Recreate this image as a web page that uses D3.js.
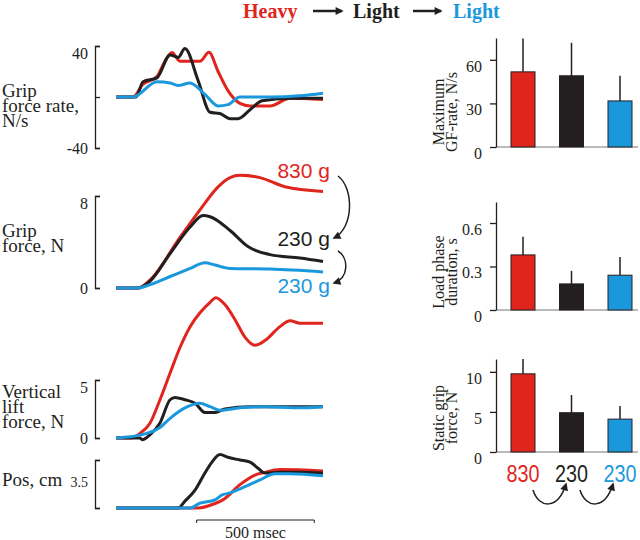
<!DOCTYPE html>
<html>
<head>
<meta charset="utf-8">
<script src="https://cdn.jsdelivr.net/npm/d3@7"></script>
<style>
body { margin: 0; background: #fff; }
.serif { font-family: "Liberation Serif", "Times New Roman", serif; }
.sans { font-family: "Liberation Sans", Arial, sans-serif; }
</style>
</head>
<body>
<div id="chart"></div>
<script>
// Traces: [time ms, value]
var rateHeavy = [[0,0],[72,0],[115,10],[174,16],[208,28],[238,35],[272,28],[357,28],[395,35],[434,20],[476,5],[527,-5],[570,-7],[655,-7],[740,-1],[880,-2]];
var rateLight1 = [[0,0],[85,0],[115,12],[174,15],[230,33],[264,31],[293,38],[349,13],[400,-12],[442,-13],[485,-17],[519,-17],[570,-10],[621,-3],[740,-1],[880,-1]];
var rateLight2 = [[0,0],[72,0],[174,12],[230,11],[264,9],[315,11],[378,2],[434,-7],[476,-6],[527,0],[655,0],[782,1],[880,3]];

var gripHeavy = [[0,0],[94,0],[145,0.7],[272,4.4],[357,6.8],[434,8.8],[485,9.6],[527,9.8],[612,9.6],[718,8.8],[880,8.4]];
var gripLight1 = [[0,0],[94,0],[145,0.6],[230,3.0],[315,5.3],[370,6.3],[400,6.2],[485,5.0],[561,3.6],[655,2.9],[782,2.6],[880,2.3]];
var gripLight2 = [[0,0],[94,0],[145,0.3],[230,1.0],[315,1.7],[378,2.2],[421,2.0],[485,1.7],[655,1.65],[880,1.4]];

var liftHeavy = [[0,0],[60,0],[102,0.4],[145,1.3],[187,3.3],[230,5.6],[272,7.8],[315,9.6],[357,10.8],[400,11.7],[425,12.1],[463,11.5],[506,10.2],[548,8.7],[591,8.0],[633,8.4],[697,9.6],[740,10.1],[782,9.9],[880,9.9]];
var liftLight1 = [[0,0],[102,0],[111,-0.15],[145,0.3],[187,1.3],[230,3.3],[251,3.5],[293,3.3],[336,3.0],[378,2.2],[421,2.2],[463,2.5],[570,2.7],[880,2.7]];
var liftLight2 = [[0,0],[60,0.1],[123,0.35],[187,0.9],[230,1.7],[293,2.6],[357,3.0],[400,2.7],[442,2.4],[527,2.6],[633,2.7],[782,2.6],[880,2.7]];

var posHeavy = [[0,0],[349,0],[400,0.2],[463,0.7],[527,1.7],[591,2.4],[633,2.6],[697,2.8],[880,2.7]];
var posLight1 = [[0,0],[264,0],[293,0.5],[336,1.3],[378,2.55],[408,3.35],[442,3.9],[476,3.7],[527,3.5],[570,3.35],[604,2.9],[633,2.55],[697,2.6],[782,2.6],[880,2.55]];
var posLight2 = [[0,0],[315,0],[357,0.35],[421,0.6],[451,0.95],[485,1.1],[548,1.55],[612,2.05],[676,2.5],[740,2.5],[880,2.35]];

// Bar charts
var categories = ["830", "230", "230"];
var colors = ["#e0251e", "#231f20", "#1b98dc"];
var gfRateMean = [51.7, 49, 31.7];
var gfRateSD = [23, 22.7, 17.3];
var loadMean = [0.38, 0.18, 0.24];
var loadSD = [0.125, 0.09, 0.125];
var staticMean = [9.75, 4.9, 4.1];
var staticSD = [1.85, 2.2, 1.65];

var svg = d3.select("#chart").append("svg")
    .attr("width", 640)
    .attr("height", 540);

// arrowhead
svg.append("defs").append("marker")
    .attr("id", "head")
    .attr("viewBox", "0 0 10 10")
    .attr("refX", 8).attr("refY", 5)
    .attr("markerWidth", 9).attr("markerHeight", 8)
    .attr("markerUnits", "userSpaceOnUse")
    .attr("orient", "auto")
    .append("path")
    .attr("d", "M0,0L10,5L0,10z")
    .attr("fill", "#231f20");

// Title
var title = [["Heavy", 243, colors[0]], ["Light", 353, colors[1]], ["Light", 453, colors[2]]];
title.forEach(function (d) {
    svg.append("text").attr("class", "serif")
        .attr("x", d[1]).attr("y", 18)
        .attr("font-size", 20).attr("font-weight", "bold")
        .attr("fill", d[2]).text(d[0]);
});
[[313, 342], [413, 441]].forEach(function (d) {
    svg.append("line")
        .attr("x1", d[0]).attr("x2", d[1]).attr("y1", 11).attr("y2", 11)
        .attr("stroke", "#231f20").attr("stroke-width", 2.5)
        .attr("marker-end", "url(#head)");
});

// Time scale
var x = d3.scaleLinear().domain([0, 880]).range([116, 323]);

var panels = [
    { y: d3.scaleLinear().domain([-40, 40]).range([148, 46]), ticks: [-40, 0, 40], labels: ["-40", "40"],
      series: [rateHeavy, rateLight1, rateLight2], name: ["Grip", "force rate,", "N/s"], nameY: 97 },
    { y: d3.scaleLinear().domain([0, 8]).range([288, 196]), ticks: [0, 8], labels: ["0", "8"],
      series: [gripHeavy, gripLight1, gripLight2], name: ["Grip", "force, N"], nameY: 237 },
    { y: d3.scaleLinear().domain([0, 5]).range([438, 380]), ticks: [0, 5], labels: ["0", "5"],
      series: [liftHeavy, liftLight1, liftLight2], name: ["Vertical", "lift", "force, N"], nameY: 398 },
    { y: d3.scaleLinear().domain([0, 3.5]).range([508, 460]), ticks: [0, 3.5], labels: [],
      series: [posHeavy, posLight1, posLight2], name: ["Pos, cm"], nameY: 486 }
];

panels.forEach(function (p) {
    // bracket axis
    svg.append("g")
        .attr("transform", "translate(95,0)")
        .call(d3.axisRight(p.y).tickValues(p.ticks).tickSize(5).tickSizeOuter(5).tickFormat(""))
        .call(function (g) {
            g.selectAll("path, line").attr("stroke", "#231f20").attr("stroke-width", 1.3);
        });

    var dom = p.y.domain();
    p.labels.forEach(function (t) {
        var v = +t;
        svg.append("text").attr("class", "serif")
            .attr("x", 88).attr("y", p.y(v))
            .attr("dy", v === dom[1] ? "0.8em" : "0.35em")
            .attr("text-anchor", "end").attr("font-size", 16)
            .attr("fill", "#231f20").text(t);
    });

    var label = svg.append("text").attr("class", "serif")
        .attr("font-size", 19).attr("fill", "#231f20");
    p.name.forEach(function (s, i) {
        label.append("tspan").attr("x", 2).attr("y", p.nameY + i * 15).text(s);
    });

    var line = d3.line()
        .x(function (d) { return x(d[0]); })
        .y(function (d) { return p.y(d[1]); })
        .curve(d3.curveMonotoneX);

    p.series.forEach(function (s, i) {
        svg.append("path")
            .attr("d", line(s))
            .attr("fill", "none")
            .attr("stroke", colors[i])
            .attr("stroke-width", 3)
            .attr("stroke-linejoin", "round");
    });
});

svg.append("text").attr("class", "serif")
    .attr("x", 88).attr("y", 487).attr("text-anchor", "end")
    .attr("font-size", 14).attr("fill", "#231f20").text("3.5");

// Weight labels
var weightLabels = [["830 g", 178, colors[0]], ["230 g", 246, colors[1]], ["230 g", 293, colors[2]]];
weightLabels.forEach(function (d) {
    svg.append("text").attr("class", "sans")
        .attr("x", 330).attr("y", d[1]).attr("text-anchor", "end")
        .attr("font-size", 21).attr("fill", d[2]).text(d[0]);
});
["M338,176C354,188 354,228 334,238", "M338,251C349,258 349,278 334,283"].forEach(function (d) {
    svg.append("path").attr("d", d).attr("fill", "none")
        .attr("stroke", "#231f20").attr("stroke-width", 1.5)
        .attr("marker-end", "url(#head)");
});

// 500 msec scale bar
svg.append("path")
    .attr("d", "M" + x(343) + ",523V520H" + x(843) + "V523")
    .attr("fill", "none").attr("stroke", "#231f20").attr("stroke-width", 1);
svg.append("text").attr("class", "serif")
    .attr("x", (x(343) + x(843)) / 2).attr("y", 538).attr("text-anchor", "middle")
    .attr("font-size", 16).attr("fill", "#231f20").text("500 msec");

// Bar charts
var xb = d3.scalePoint().domain([0, 1, 2]).range([523, 620]);
var barW = 24;

var bars = [
    { y: d3.scaleLinear().domain([0, 75]).range([147, 38]), ticks: [0, 30, 60], mean: gfRateMean, sd: gfRateSD,
      name: ["Maximum", "GF-rate, N/s"], nameY: 112 },
    { y: d3.scaleLinear().domain([0, 0.745]).range([310, 202]), ticks: [0, 0.3, 0.6], mean: loadMean, sd: loadSD,
      name: ["Load phase", "duration, s"], nameY: 272 },
    { y: d3.scaleLinear().domain([0, 11.6]).range([452, 359]), ticks: [0, 5, 10], mean: staticMean, sd: staticSD,
      name: ["Static grip", "force, N"], nameY: 418 }
];

bars.forEach(function (b) {
    // baseline
    svg.append("line")
        .attr("x1", 496).attr("x2", 638)
        .attr("y1", b.y(0)).attr("y2", b.y(0))
        .attr("stroke", "#777").attr("stroke-width", 1);

    var ax = svg.append("g")
        .attr("transform", "translate(496,0)")
        .call(d3.axisLeft(b.y).tickValues(b.ticks).tickSize(6).tickSizeOuter(0).tickPadding(8)
            .tickFormat(function (d) { return String(d); }));
    ax.selectAll("path, line").attr("stroke", "#231f20").attr("stroke-width", 1.3);
    ax.selectAll("text")
        .attr("class", "serif").attr("font-size", 16).attr("fill", "#231f20")
        .attr("dy", "0.7em");

    // error bars
    svg.selectAll(null)
        .data(b.mean)
        .enter()
        .append("line")
        .attr("x1", function (d, i) { return xb(i); })
        .attr("x2", function (d, i) { return xb(i); })
        .attr("y1", function (d) { return b.y(d); })
        .attr("y2", function (d, i) { return b.y(d + b.sd[i]); })
        .attr("stroke", "#231f20").attr("stroke-width", 1.5);

    svg.selectAll(null)
        .data(b.mean)
        .enter()
        .append("rect")
        .attr("x", function (d, i) { return xb(i) - barW / 2; })
        .attr("y", function (d) { return b.y(d); })
        .attr("width", barW)
        .attr("height", function (d) { return b.y(0) - b.y(d); })
        .attr("fill", function (d, i) { return colors[i]; })
        .attr("stroke", "#231f20").attr("stroke-width", 1);

    var label = svg.append("text").attr("class", "serif")
        .attr("font-size", 16).attr("fill", "#231f20")
        .attr("text-anchor", "middle")
        .attr("transform", "translate(0," + b.nameY + ") rotate(-90)");
    b.name.forEach(function (s, i) {
        label.append("tspan").attr("x", 0).attr("y", 444 + i * 13).text(s);
    });
});

// Category labels
svg.selectAll("text.cat")
    .data(categories)
    .enter()
    .append("text")
    .attr("class", "sans cat")
    .attr("x", function (d, i) { return xb(i); })
    .attr("y", 482)
    .attr("text-anchor", "middle")
    .attr("font-size", 23)
    .attr("textLength", 33)
    .attr("lengthAdjust", "spacingAndGlyphs")
    .attr("fill", function (d, i) { return colors[i]; })
    .text(function (d) { return d; });

["M533,490C539,509 558,510 566,484", "M580,490C586,509 605,510 613,484"].forEach(function (d) {
    svg.append("path").attr("d", d).attr("fill", "none")
        .attr("stroke", "#231f20").attr("stroke-width", 1.5)
        .attr("marker-end", "url(#head)");
});
</script>
</body>
</html>
